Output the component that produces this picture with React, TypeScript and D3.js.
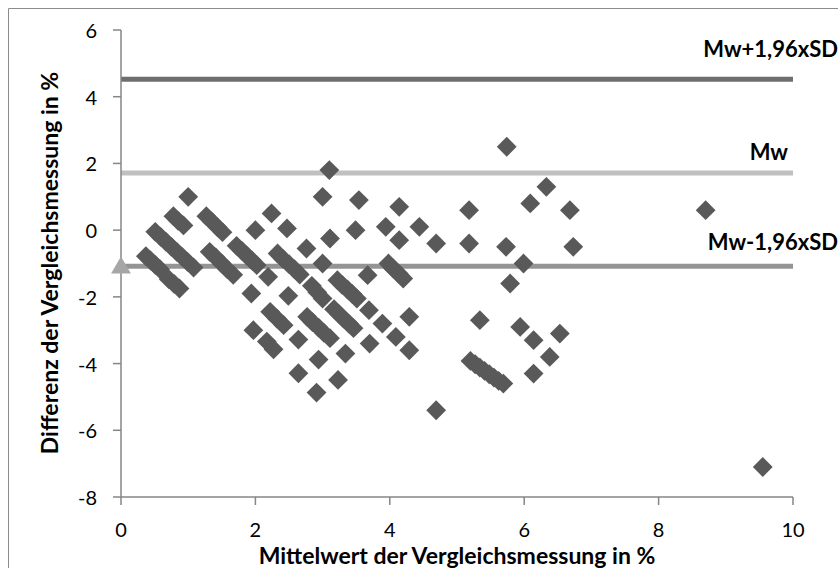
import React from "react";
import * as d3 from "d3";

const meanValues = [
  0.78, 0.85, 0.93,
  1.27, 1.35, 1.43, 1.51,
  0.51, 0.59, 0.67, 0.75, 0.83, 0.91, 0.99, 1.08,
  0.37, 0.44, 0.51, 0.58,
  0.71, 0.79, 0.87,
  1.32, 1.41, 1.5, 1.58, 1.67,
  1.72, 1.8, 1.87, 1.95, 2.02,
  2.33, 2.41, 2.5, 2.58, 2.66,
  3.98, 4.05, 4.13, 4.2,
  3.22, 3.29, 3.37, 3.44, 3.51,
  2.84, 2.92, 3.0,
  2.22, 2.32, 2.42,
  2.77, 2.85, 2.94, 3.02, 3.11,
  3.17, 3.24, 3.31, 3.39, 3.46,
  2.17, 2.27,
  5.2, 5.27, 5.34, 5.41, 5.48, 5.55, 5.62, 5.69,
  1.0, 2.0, 2.24, 2.47, 2.76, 2.19, 3.0, 1.94, 2.49, 1.97, 2.64, 2.94,
  3.1, 3.0, 3.54, 4.14, 3.11, 3.49, 3.94, 4.14, 3.67, 3.69, 3.89, 4.09,
  4.29, 4.29, 3.7, 3.34, 3.23, 2.64, 2.91, 4.44, 4.69, 4.69, 5.18, 5.18,
  5.74, 6.33, 6.09, 6.68, 5.73, 6.73, 5.99, 5.79, 5.34, 5.94, 6.14, 6.53,
  6.38, 6.14, 8.7, 9.55,
];

const diffValues = [
  0.42, 0.28, 0.14,
  0.42, 0.26, 0.1, -0.06,
  -0.05, -0.2, -0.35, -0.5, -0.65, -0.8, -0.95, -1.12,
  -0.78, -0.91, -1.04, -1.17,
  -1.47, -1.61, -1.75,
  -0.65, -0.82, -1.0, -1.17, -1.34,
  -0.47, -0.62, -0.76, -0.91, -1.05,
  -0.7, -0.86, -1.02, -1.17, -1.33,
  -1.0, -1.15, -1.3, -1.45,
  -1.5, -1.64, -1.78, -1.91, -2.05,
  -1.67, -1.86, -2.05,
  -2.45, -2.65, -2.85,
  -2.6, -2.76, -2.92, -3.08, -3.24,
  -2.37, -2.51, -2.65, -2.8, -2.94,
  -3.34, -3.57,
  -3.92, -4.02, -4.12, -4.22, -4.32, -4.42, -4.52, -4.6,
  1.0, 0.0, 0.5, 0.05, -0.55, -1.4, -1.0, -1.9, -1.97, -3.0, -3.28, -3.88,
  1.8, 1.0, 0.9, 0.7, -0.25, 0.0, 0.1, -0.3, -1.35, -2.4, -2.8, -3.2,
  -2.6, -3.6, -3.4, -3.7, -4.49, -4.29, -4.87, 0.1, -0.4, -5.4, 0.6, -0.4,
  2.5, 1.3, 0.8, 0.6, -0.5, -0.5, -1.0, -1.6, -2.7, -2.9, -3.3, -3.1,
  -3.8, -4.3, 0.6, -7.1,
];

const limitNames = ["Mw+1,96xSD", "Mw", "Mw-1,96xSD"];
const limitValues = [4.52, 1.71, -1.08];
const limitColors = ["#6e6e6e", "#c0c0c0", "#949494"];

const markerMean = [0];
const markerDiff = [-1.1];

const xTicks = [0, 2, 4, 6, 8, 10];
const yTicks = [6, 4, 2, 0, -2, -4, -6, -8];

const xTitle = "Mittelwert der Vergleichsmessung in %";
const yTitle = "Differenz der Vergleichsmessung in %";

export default function App() {
  const W = 838;
  const H = 568;
  const x = d3.scaleLinear().domain([0, 10]).range([121, 793]);
  const y = d3.scaleLinear().domain([-8, 6]).range([497, 30]);
  const font = "Lato, 'Open Sans', sans-serif";
  const axisColor = "#868686";
  const diamond = d3.symbol().type(d3.symbolSquare).size(196)();
  const triangle = d3.symbol().type(d3.symbolTriangle).size(170)();
  const labelY = [48, 151, 241];

  return (
    <svg
      width={W}
      height={H}
      style={{ position: "absolute", left: 0, top: 0, background: "#fff" }}
    >
      <rect x={0} y={0} width={W} height={H} fill="#fff" />
      <line x1={8.5} y1={8.5} x2={W} y2={8.5} stroke="#8c8c8c" />
      <line x1={8.5} y1={8.5} x2={8.5} y2={H} stroke="#8c8c8c" />

      {limitValues.map((v, i) => (
        <line
          key={"l" + i}
          x1={x(0)}
          x2={x(10)}
          y1={y(v)}
          y2={y(v)}
          stroke={limitColors[i]}
          strokeWidth={5}
        />
      ))}

      <line x1={x(0)} x2={x(0)} y1={y(6)} y2={y(-8)} stroke={axisColor} strokeWidth={1.5} />
      <line x1={x(0)} x2={x(10)} y1={y(-8)} y2={y(-8)} stroke={axisColor} strokeWidth={1.5} />
      {yTicks.map((t) => (
        <g key={"yt" + t}>
          <line x1={x(0) - 8} x2={x(0)} y1={y(t)} y2={y(t)} stroke={axisColor} strokeWidth={1.5} />
          <text
            x={97}
            y={y(t)}
            textAnchor="end"
            dominantBaseline="central"
            fontFamily={font}
            fontSize={20}
            fill="#000"
          >
            {t}
          </text>
        </g>
      ))}
      {xTicks.map((t) => (
        <g key={"xt" + t}>
          <line x1={x(t)} x2={x(t)} y1={y(-8)} y2={y(-8) + 8} stroke={axisColor} strokeWidth={1.5} />
          <text
            x={x(t)}
            y={529}
            textAnchor="middle"
            dominantBaseline="central"
            fontFamily={font}
            fontSize={20}
            fill="#000"
          >
            {t}
          </text>
        </g>
      ))}

      {meanValues.map((m, i) => (
        <path
          key={"p" + i}
          d={diamond}
          transform={`translate(${x(m)},${y(diffValues[i])}) rotate(45)`}
          fill="#595959"
        />
      ))}
      {markerMean.map((m, i) => (
        <path
          key={"t" + i}
          d={triangle}
          transform={`translate(${x(m)},${y(markerDiff[i]) + 1})`}
          fill="#a6a6a6"
        />
      ))}

      {limitNames.map((n, i) => (
        <text
          key={"n" + i}
          x={i === 1 ? 788 : 838}
          y={labelY[i]}
          textAnchor="end"
          dominantBaseline="central"
          fontFamily={font}
          fontWeight="bold"
          fontSize={22}
          fill="#000"
        >
          {n}
        </text>
      ))}

      <text
        x={x(5)}
        y={555}
        textAnchor="middle"
        dominantBaseline="central"
        fontFamily={font}
        fontWeight="bold"
        fontSize={23}
        fill="#000"
      >
        {xTitle}
      </text>
      <text
        transform={`translate(49,${263}) rotate(-90)`}
        textAnchor="middle"
        dominantBaseline="central"
        fontFamily={font}
        fontWeight="bold"
        fontSize={23}
        fill="#000"
      >
        {yTitle}
      </text>
    </svg>
  );
}
